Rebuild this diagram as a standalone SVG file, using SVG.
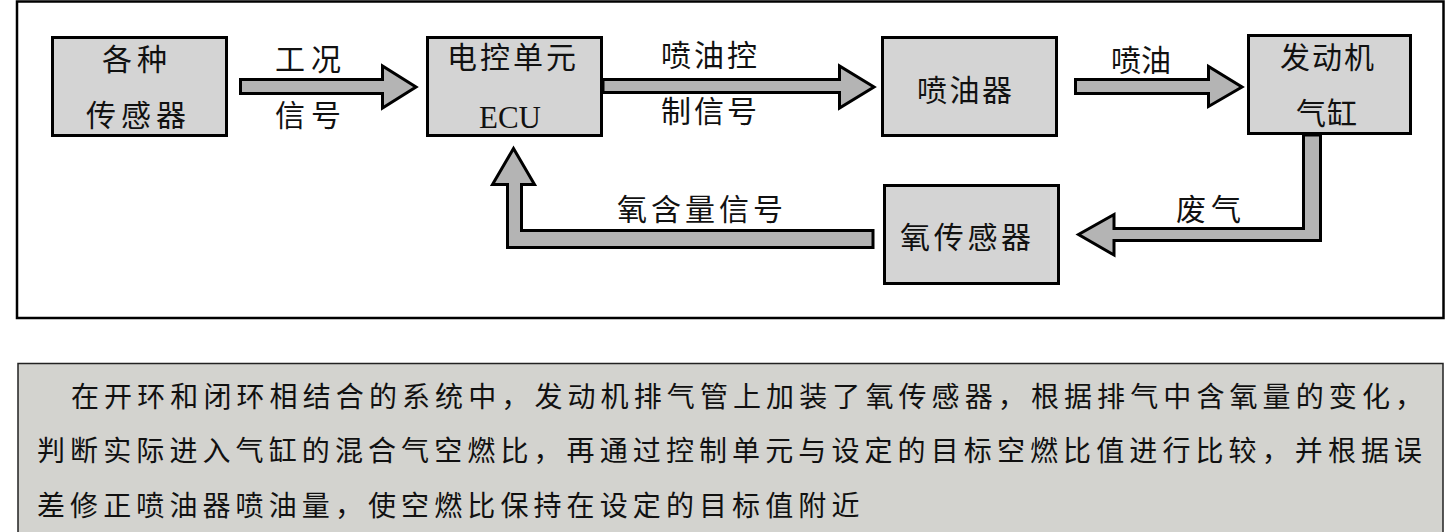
<svg xmlns="http://www.w3.org/2000/svg" width="1453" height="532" viewBox="0 0 1453 532">
<style>
.box{fill:#d4d4d4;stroke:#000;stroke-width:3}
.arr{fill:#b4b4b4;stroke:#000;stroke-width:3;stroke-linejoin:miter;stroke-miterlimit:10}
.t{font-family:"Noto Sans CJK SC","Noto Sans CJK TC",sans-serif;font-size:30px;fill:#111}
.e{font-family:"Liberation Serif",serif;font-size:31px;fill:#111}
.p{font-family:"Noto Sans CJK SC",sans-serif;font-size:28px;fill:#111;letter-spacing:5.1px}
</style>
<rect x="0" y="0" width="1453" height="532" fill="#fff"/>
<rect x="17" y="1.5" width="1426.5" height="316.5" fill="#fff" stroke="#000" stroke-width="2.5"/>
<g id="connectors">
<polygon class="arr" points="240.5,79.5 382.5,79.5 382.5,66 416,87 382.5,108 382.5,93.5 240.5,93.5"/>
<polygon class="arr" points="603,79.5 839.5,79.5 839.5,66 874,87 839.5,108 839.5,92.5 603,92.5"/>
<polygon class="arr" points="1075.5,79.5 1208.5,79.5 1208.5,66.5 1242,87 1208.5,106.5 1208.5,93.5 1075.5,93.5"/>
<polygon class="arr" points="1303.5,135 1303.5,228.5 1114,228.5 1114,214.5 1078.5,234.5 1114,255 1114,240.5 1320.5,240.5 1320.5,135"/>
<polygon class="arr" points="873,230.5 521.5,230.5 521.5,184.5 534.5,184.5 513.5,148.5 492.5,184.5 507.5,184.5 507.5,247.5 873,247.5"/>
<text class="t" x="275" y="70" letter-spacing="6">工况</text>
<text class="t" x="275" y="126" letter-spacing="6">信号</text>
<text class="t" x="661" y="66" letter-spacing="3">喷油控</text>
<text class="t" x="661" y="122" letter-spacing="3">制信号</text>
<text class="t" x="1111" y="71" letter-spacing="0">喷油</text>
<text class="t" x="1176" y="220" letter-spacing="5">废气</text>
<text class="t" x="617" y="220" letter-spacing="4">氧含量信号</text>
</g>
<g id="sensors">
<rect class="box" x="52.5" y="37.5" width="174" height="98"/>
<text class="t" x="102" y="70" letter-spacing="5">各种</text>
<text class="t" x="86" y="126" letter-spacing="5">传感器</text>
</g>
<g id="ecu">
<rect class="box" x="427.5" y="37.5" width="174" height="98"/>
<text class="t" x="447" y="68" letter-spacing="3">电控单元</text>
<text class="e" x="479" y="128">ECU</text>
</g>
<g id="injector">
<rect class="box" x="882.5" y="37.5" width="174" height="98"/>
<text class="t" x="917" y="101" letter-spacing="2.5">喷油器</text>
</g>
<g id="cylinder">
<rect class="box" x="1248.5" y="35.5" width="162" height="98"/>
<text class="t" x="1280" y="68" letter-spacing="2">发动机</text>
<text class="t" x="1296" y="124" letter-spacing="1">气缸</text>
</g>
<g id="o2sensor">
<rect class="box" x="884.5" y="185.5" width="174" height="98"/>
<text class="t" x="900" y="248" letter-spacing="3.7">氧传感器</text>
</g>
<g id="note">
<rect x="18" y="363.5" width="1425" height="180" fill="#d3d3cf" stroke="#222" stroke-width="1.5"/>
<text class="p" x="71" y="407">在开环和闭环相结合的系统中，发动机排气管上加装了氧传感器，根据排气中含氧量的变化，</text>
<text class="p" x="37" y="461">判断实际进入气缸的混合气空燃比，再通过控制单元与设定的目标空燃比值进行比较，并根据误</text>
<text class="p" x="37" y="516">差修正喷油器喷油量，使空燃比保持在设定的目标值附近</text>
</g>
</svg>
